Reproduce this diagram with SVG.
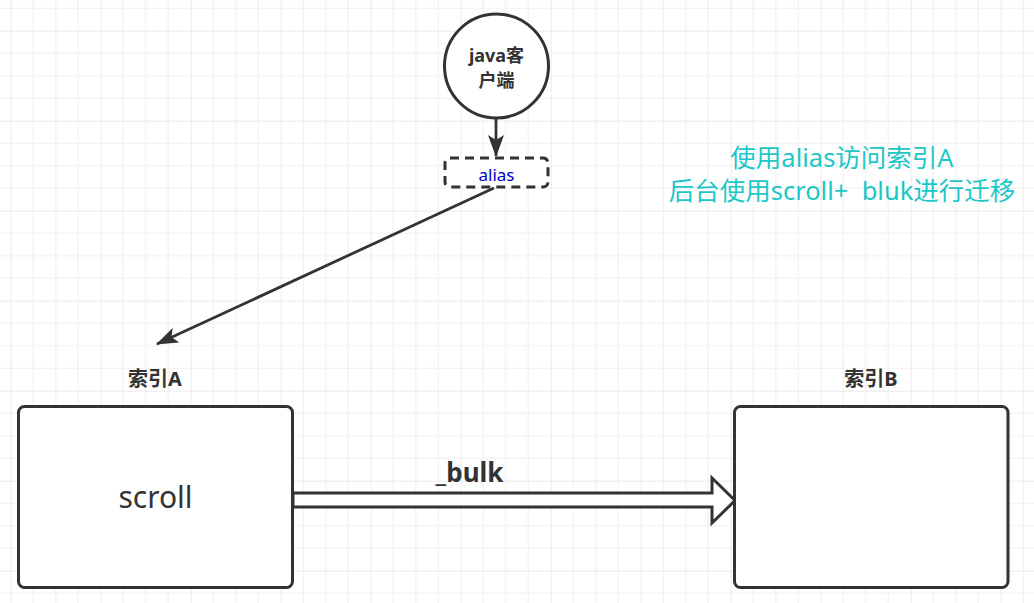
<svg xmlns="http://www.w3.org/2000/svg" width="1034" height="603" viewBox="0 0 1034 603">
<defs>
<pattern id="grid" x="10.7" y="30.7" width="90" height="90" patternUnits="userSpaceOnUse">
<path d="M22.5 0V90M45 0V90M67.5 0V90M0 22.5H90M0 45H90M0 67.5H90" stroke="#efefef" stroke-width="1.2" fill="none"/>
<path d="M0 0V90M0 0H90" stroke="#e4e4e4" stroke-width="1.4" fill="none"/>
</pattern>
<marker id="ah" markerWidth="22" markerHeight="16" viewBox="0 0 22 16" refX="21" refY="8" orient="auto" markerUnits="userSpaceOnUse">
<path d="M0 0L22 8L0 16L5 8Z" fill="#333"/>
</marker>
<style>
.box{fill:#fff;stroke:#333;stroke-width:3}
.lbl{font-family:"Noto Sans","Noto Sans CJK SC",sans-serif;fill:#333;text-anchor:middle}
.b{font-weight:bold}
.conn{stroke:#333;stroke-width:2.8;fill:none}
.note{font-family:"Noto Sans","Noto Sans CJK SC",sans-serif;fill:#1cc7c7;font-size:25.5px;text-anchor:middle}
</style>
</defs>
<rect width="1034" height="603" fill="#fff"/>
<rect width="1034" height="603" fill="url(#grid)"/>

<g id="connectors">
<line class="conn" x1="496" y1="118" x2="496" y2="156" marker-end="url(#ah)"/>
<line class="conn" x1="494" y1="188" x2="157" y2="344" marker-end="url(#ah)"/>
<polygon points="293,493 712,493 712,478 735,500.5 712,523 712,507 293,507" fill="#fff" stroke="#333" stroke-width="3" stroke-linejoin="miter"/>
<text class="lbl b" x="469.5" y="482" font-size="26">_bulk</text>
</g>

<g id="client">
<circle cx="496.5" cy="66" r="52" class="box"/>
<text class="lbl b" x="496.5" y="62" font-size="18">java客</text>
<text class="lbl b" x="496.5" y="87" font-size="18">户端</text>
</g>

<g id="alias">
<rect x="445" y="158" width="103" height="29" rx="5" fill="#fff" stroke="#333" stroke-width="3" stroke-dasharray="9,6"/>
<text x="496.5" y="181" font-family="Noto Sans, sans-serif" font-size="17" fill="#0000cc" text-anchor="middle">alias</text>
</g>

<g id="indexA">
<text class="lbl b" x="155" y="386" font-size="20">索引A</text>
<rect x="18.5" y="406.5" width="274" height="181" rx="6" class="box"/>
<text class="lbl" x="155.5" y="508" font-size="30">scroll</text>
</g>

<g id="indexB">
<text class="lbl b" x="871" y="386" font-size="20">索引B</text>
<rect x="734.5" y="406.5" width="273.5" height="181" rx="6" class="box"/>
</g>

<g id="note">
<text class="note" x="842" y="167">使用alias访问索引A</text>
<text class="note" x="842" y="200" xml:space="preserve">后台使用scroll+  bluk进行迁移</text>
</g>
</svg>
